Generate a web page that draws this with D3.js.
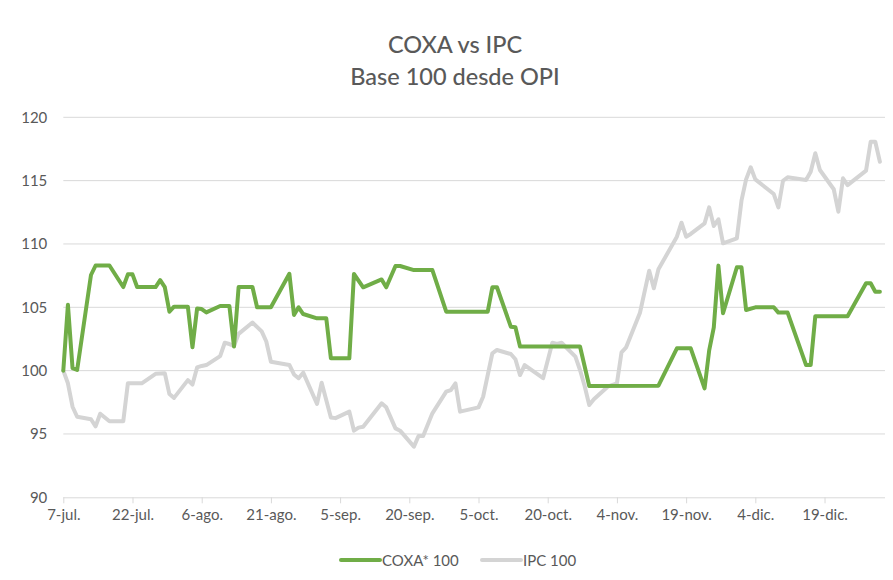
<!DOCTYPE html>
<html><head><meta charset="utf-8">
<script src="https://cdn.jsdelivr.net/npm/d3@7"></script>
<style>
html,body{margin:0;padding:0;background:#fff;}
svg{display:block;font-family:Lato,"Open Sans",sans-serif;}
</style></head>
<body>
<svg id="chart" width="893" height="580"></svg>
<script>
const titleLines = ["COXA vs IPC", "Base 100 desde OPI"];
const seriesNames = ["COXA* 100", "IPC 100"];
const yTicks = [90, 95, 100, 105, 110, 115, 120];
const xTickDates = ["07-07","07-22","08-06","08-21","09-05","09-20","10-05","10-20","11-04","11-19","12-04","12-19"];
const xTickLabels = ["7-jul.","22-jul.","6-ago.","21-ago.","5-sep.","20-sep.","5-oct.","20-oct.","4-nov.","19-nov.","4-dic.","19-dic."];

const coxaDates = ["07-07","07-08","07-09","07-10","07-13","07-14","07-17","07-20","07-21","07-22","07-23","07-27","07-28","07-29","07-30","07-31","08-03","08-04","08-05","08-06","08-07","08-10","08-12","08-13","08-14","08-17","08-18","08-21","08-25","08-26","08-27","08-28","08-31","09-02","09-03","09-07","09-08","09-10","09-14","09-15","09-17","09-18","09-21","09-25","09-28","10-07","10-08","10-09","10-12","10-13","10-14","10-27","10-29","11-13","11-17","11-20","11-23","11-24","11-25","11-26","11-27","11-30","12-01","12-02","12-04","12-08","12-09","12-11","12-15","12-16","12-17","12-24","12-28","12-29","12-30","12-31"];
const coxaValues = [100,105.2,100.2,100.05,107.55,108.3,108.3,106.6,107.6,107.6,106.6,106.6,107.15,106.6,104.65,105.05,105.05,101.85,104.9,104.86,104.6,105.1,105.1,101.9,106.6,106.6,105.0,105.0,107.65,104.4,105.0,104.47,104.13,104.13,100.97,100.97,107.63,106.58,107.2,106.58,108.26,108.26,107.94,107.94,104.65,104.65,106.58,106.58,103.47,103.42,101.9,101.9,98.79,98.81,101.76,101.76,98.6,101.6,103.42,108.29,104.53,108.16,108.16,104.79,105.0,105.0,104.58,104.58,100.44,100.44,104.3,104.3,106.9,106.9,106.23,106.23];

const ipcDates = ["07-07","07-08","07-09","07-10","07-13","07-14","07-15","07-17","07-20","07-21","07-24","07-27","07-29","07-30","07-31","08-03","08-04","08-05","08-06","08-07","08-10","08-11","08-12","08-13","08-14","08-17","08-19","08-20","08-21","08-25","08-26","08-27","08-28","08-31","09-01","09-03","09-04","09-07","09-08","09-09","09-10","09-14","09-15","09-17","09-18","09-21","09-22","09-23","09-25","09-28","09-29","09-30","10-01","10-05","10-06","10-08","10-09","10-12","10-13","10-14","10-15","10-19","10-21","10-22","10-23","10-26","10-27","10-28","10-29","10-30","11-02","11-04","11-05","11-06","11-09","11-11","11-12","11-13","11-17","11-18","11-19","11-20","11-23","11-24","11-25","11-26","11-27","11-30","12-01","12-02","12-03","12-04","12-08","12-09","12-10","12-11","12-15","12-16","12-17","12-18","12-21","12-22","12-23","12-24","12-28","12-29","12-30","12-31"];
const ipcValues = [100,99.0,97.15,96.36,96.16,95.6,96.6,96.0,96.0,99.0,99.0,99.75,99.8,98.15,97.85,99.25,98.9,100.25,100.37,100.44,101.15,102.2,102.1,101.95,102.9,103.8,103.1,102.3,100.7,100.45,99.7,99.4,99.84,97.37,99.05,96.3,96.25,96.76,95.26,95.5,95.57,97.42,97.1,95.44,95.26,94.0,94.84,94.84,96.63,98.34,98.47,99.0,96.76,97.1,97.94,101.37,101.63,101.31,100.9,99.65,100.44,99.4,102.2,102.1,102.2,101.1,100.05,98.79,97.29,97.74,98.73,99.0,101.45,101.84,104.57,107.89,106.5,108.0,110.57,111.68,110.57,110.79,111.63,112.89,111.42,111.95,110.05,110.45,113.42,115.1,116.05,115.1,113.94,112.89,114.99,115.26,115.05,115.7,117.16,115.84,114.32,112.55,115.18,114.65,115.79,118.07,118.07,116.49];

const year = 2020;
const parse = s => new Date(year, +s.slice(0,2) - 1, +s.slice(3,5));
const colors = ["#70ad47", "#d4d4d4"];
const textColor = "#595959";
const gridColor = "#d9d9d9";
const font = "Lato,'Open Sans',sans-serif";

const svg = d3.select("#chart");
const x = d3.scaleTime().domain([new Date(2020,6,7), new Date(2021,0,1)]).range([63.3, 884.5]);
const y = d3.scaleLinear().domain([90,120]).range([497.3, 117.3]);

// title
svg.append("text").attr("x", 455).attr("y", 53).attr("text-anchor","middle")
  .attr("fill", textColor).attr("font-size", 23.5).attr("font-weight", 500).text(titleLines[0]);
svg.append("text").attr("x", 455).attr("y", 85).attr("text-anchor","middle")
  .attr("fill", textColor).attr("font-size", 23.5).attr("font-weight", 500).text(titleLines[1]);

// gridlines
svg.append("g").selectAll("line").data(yTicks.filter(v => v > 90)).join("line")
  .attr("x1", 63.3).attr("x2", 885).attr("y1", d => y(d)).attr("y2", d => y(d))
  .attr("stroke", gridColor).attr("stroke-width", 1);

// y axis labels
const yAxis = d3.axisLeft(y).tickValues(yTicks).tickSize(0).tickPadding(16);
const gy = svg.append("g").attr("transform", "translate(63.3,0)").call(yAxis);
gy.select(".domain").remove();
gy.selectAll("text").attr("fill", textColor).attr("font-size", 15).attr("font-family", font);

// x axis
const tickDates = xTickDates.map(parse);
const xAxis = d3.axisBottom(x).tickValues(tickDates).tickSize(6).tickPadding(6)
  .tickFormat((d,i) => xTickLabels[i]);
const gx = svg.append("g").attr("transform", "translate(0,497.3)").call(xAxis);
gx.select(".domain").attr("stroke", gridColor).attr("d", "M63.3,0.5H885");
gx.selectAll(".tick line").attr("stroke", gridColor);
gx.selectAll("text").attr("fill", textColor).attr("font-size", 15).attr("font-family", font);

// lines
const line = d3.line().x(d => x(d[0])).y(d => y(d[1]));
const ipcData = ipcDates.map((d,i) => [parse(d), ipcValues[i]]);
const coxaData = coxaDates.map((d,i) => [parse(d), coxaValues[i]]);
svg.append("path").datum(ipcData).attr("d", line).attr("fill","none")
  .attr("stroke", colors[1]).attr("stroke-width", 4).attr("stroke-linejoin","round").attr("stroke-linecap","round");
svg.append("path").datum(coxaData).attr("d", line).attr("fill","none")
  .attr("stroke", colors[0]).attr("stroke-width", 4).attr("stroke-linejoin","round").attr("stroke-linecap","round");

// legend
const legendItems = [{name: seriesNames[0], color: colors[0], x: 341}, {name: seriesNames[1], color: colors[1], x: 482}];
const lg = svg.append("g");
legendItems.forEach(it => {
  lg.append("line").attr("x1", it.x).attr("x2", it.x + 39).attr("y1", 560).attr("y2", 560)
    .attr("stroke", it.color).attr("stroke-width", 4).attr("stroke-linecap","round");
  lg.append("text").attr("x", it.x + 41).attr("y", 565.5).attr("fill", textColor)
    .attr("font-size", 15).text(it.name);
});
</script>
</body></html>
